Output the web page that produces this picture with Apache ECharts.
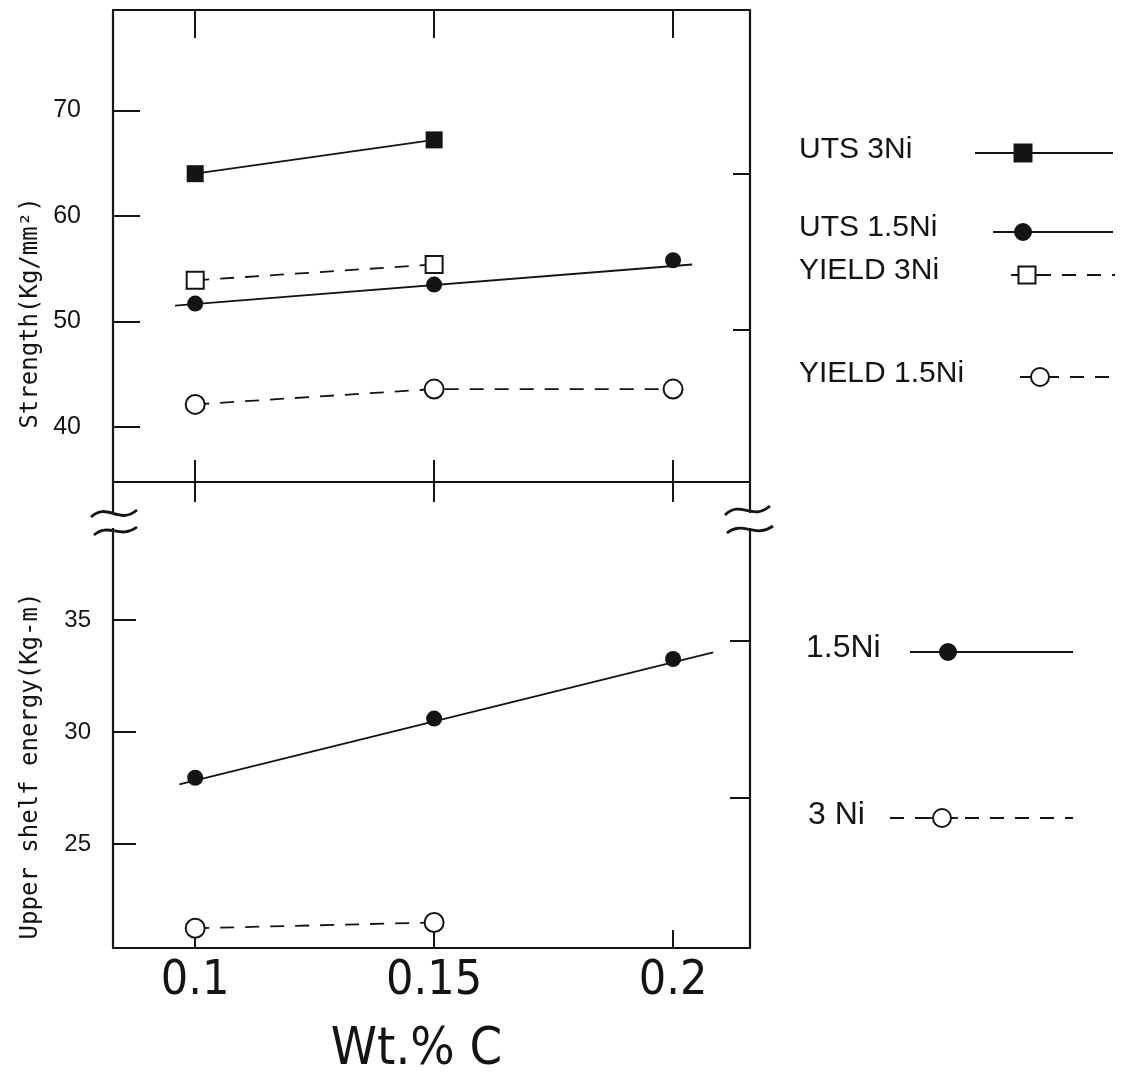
<!DOCTYPE html>
<html>
<head>
<meta charset="utf-8">
<script src="https://cdn.jsdelivr.net/npm/echarts@6/dist/echarts.min.js"></script>
<style>html,body{margin:0;padding:0;background:#fff}#c{width:1131px;height:1074px}</style>
</head>
<body>
<div id="c"></div>
<script>
// ---- data ----
const xTickValues = [0.1, 0.15, 0.2];
const strengthTicks = [40, 50, 60, 70];
const energyTicks = [25, 30, 35];

// Strength panel (Kg/mm^2) vs Wt.% C
const utsNi3 = [[0.1, 64.0], [0.15, 67.2]];
const utsNi15 = [[0.1, 51.7], [0.15, 53.5], [0.2, 55.8]];
const utsNi15Fit = [[0.0958, 51.5], [0.204, 55.4]];
const yieldNi3 = [[0.1, 53.9], [0.15, 55.4]];
const yieldNi15 = [[0.1, 42.15], [0.15, 43.6], [0.2, 43.6]];

// Upper shelf energy panel (Kg-m) vs Wt.% C
const useNi15 = [[0.1, 27.96], [0.15, 30.6], [0.2, 33.26]];
const useNi15Fit = [[0.0967, 27.66], [0.2084, 33.56]];
const useNi3 = [[0.1, 21.24], [0.15, 21.5]];

// ---- styling ----
const INK = '#141414';
const SANS = "'Liberation Sans', Arial, sans-serif";
const NARROW = "'Liberation Sans Narrow', 'DejaVu Sans Condensed', 'Liberation Sans', sans-serif";
const MONO = "'DejaVu Sans Mono', 'Liberation Mono', monospace";
const axisLine = { show: true, onZero: false, lineStyle: { color: INK, width: 2.2 } };
const dash = [14, 11];

const xRange = { min: 0.0828, max: 0.2161 };

function xAx(gridIndex, position, tickLen, showLabel) {
  return Object.assign({
    type: 'value', gridIndex, position,
    axisLine,
    splitLine: { show: false },
    axisTick: { show: true, inside: true, length: tickLen, customValues: xTickValues, lineStyle: { color: INK, width: 2 } },
    axisLabel: showLabel ? {
      show: true, customValues: xTickValues, margin: 10,
      fontFamily: NARROW, fontSize: 48, color: INK
    } : { show: false }
  }, xRange);
}

const option = {
  backgroundColor: '#fff',
  animation: false,
  grid: [
    { left: 113, top: 10, width: 637, height: 472, outerBoundsMode: 'none', containLabel: false },
    { left: 113, top: 482, width: 637, height: 466, outerBoundsMode: 'none', containLabel: false }
  ],
  xAxis: [
    xAx(0, 'bottom', 22, false),
    xAx(0, 'top', 28, false),
    xAx(1, 'top', 20, false),
    Object.assign(xAx(1, 'bottom', 18, true), {
      name: 'Wt.% C', nameLocation: 'middle', nameGap: 76,
      nameTextStyle: { fontFamily: NARROW, fontSize: 52, color: INK, padding: [0, 30, 0, 0] }
    })
  ],
  yAxis: [
    {
      type: 'value', gridIndex: 0, position: 'left', min: 34.8, max: 79.5,
      axisLine, splitLine: { show: false },
      axisTick: { show: true, inside: true, length: 27, customValues: strengthTicks, lineStyle: { color: INK, width: 2 } },
      axisLabel: { show: true, customValues: strengthTicks, margin: 32, fontFamily: SANS, fontSize: 25, color: INK },
      name: 'Strength(Kg/mm\u00b2)', nameLocation: 'middle', nameRotate: 90, nameGap: 70,
      nameTextStyle: { fontFamily: MONO, fontSize: 24, color: INK, padding: [0, 134, 0, 0] }
    },
    {
      type: 'value', gridIndex: 0, position: 'right', min: 34.8, max: 79.5,
      axisLine, splitLine: { show: false },
      axisTick: { show: true, inside: true, length: 17, customValues: [64.0, 49.2], lineStyle: { color: INK, width: 2 } },
      axisLabel: { show: false }
    },
    {
      type: 'value', gridIndex: 1, position: 'left', min: 20.36, max: 41.16,
      axisLine, splitLine: { show: false },
      axisTick: { show: true, inside: true, length: 23, customValues: energyTicks, lineStyle: { color: INK, width: 2 } },
      axisLabel: { show: true, customValues: energyTicks, margin: 22, fontFamily: SANS, fontSize: 24, color: INK },
      name: 'Upper shelf energy(Kg-m)', nameLocation: 'middle', nameRotate: 90, nameGap: 70,
      nameTextStyle: { fontFamily: MONO, fontSize: 24, color: INK, padding: [0, 102, 0, 0] }
    },
    {
      type: 'value', gridIndex: 1, position: 'right', min: 20.36, max: 41.16,
      axisLine, splitLine: { show: false },
      axisTick: { show: true, inside: true, length: 20, customValues: [34.06, 27.05], lineStyle: { color: INK, width: 2 } },
      axisLabel: { show: false }
    }
  ],
  series: [
    {
      name: 'UTS 3Ni', type: 'line', xAxisIndex: 0, yAxisIndex: 0, data: utsNi3,
      symbol: 'rect', symbolSize: 17, showAllSymbol: true,
      lineStyle: { color: INK, width: 1.8 }, itemStyle: { color: INK }
    },
    {
      name: 'UTS 1.5Ni fit', type: 'line', xAxisIndex: 0, yAxisIndex: 0, data: utsNi15Fit,
      symbol: 'none', lineStyle: { color: INK, width: 1.8 }
    },
    {
      name: 'UTS 1.5Ni', type: 'scatter', xAxisIndex: 0, yAxisIndex: 0, data: utsNi15,
      symbol: 'circle', symbolSize: 16, itemStyle: { color: INK, opacity: 1 }
    },
    {
      name: 'YIELD 3Ni', type: 'line', xAxisIndex: 0, yAxisIndex: 0, data: yieldNi3,
      symbol: 'rect', symbolSize: 17, showAllSymbol: true,
      lineStyle: { color: INK, width: 1.8, type: dash },
      itemStyle: { color: '#fff', borderColor: INK, borderWidth: 2 }
    },
    {
      name: 'YIELD 1.5Ni', type: 'line', xAxisIndex: 0, yAxisIndex: 0, data: yieldNi15,
      symbol: 'circle', symbolSize: 19, showAllSymbol: true,
      lineStyle: { color: INK, width: 1.8, type: dash },
      itemStyle: { color: '#fff', borderColor: INK, borderWidth: 2 }
    },
    {
      name: '1.5Ni fit', type: 'line', xAxisIndex: 3, yAxisIndex: 2, data: useNi15Fit,
      symbol: 'none', lineStyle: { color: INK, width: 1.8 }
    },
    {
      name: '1.5Ni', type: 'scatter', xAxisIndex: 3, yAxisIndex: 2, data: useNi15,
      symbol: 'circle', symbolSize: 16, itemStyle: { color: INK, opacity: 1 }
    },
    {
      name: '3 Ni', type: 'line', xAxisIndex: 3, yAxisIndex: 2, data: useNi3,
      symbol: 'circle', symbolSize: 19, showAllSymbol: true,
      lineStyle: { color: INK, width: 1.8, type: dash },
      itemStyle: { color: '#fff', borderColor: INK, borderWidth: 2 }
    }
  ]
};

// ---- legend drawn as graphics (text left, sample line with symbol to the right) ----
function legendItem(label, ty, fontSize, tx, lx1, lx2, mx, my, marker, dashed) {
  const els = [];
  els.push({ type: 'text', left: tx, top: ty - fontSize * 0.6, z: 100,
    style: { text: label, fontFamily: SANS, fontSize, fill: INK } });
  els.push({ type: 'line', z: 100, shape: { x1: lx1, y1: my, x2: lx2, y2: my },
    style: { stroke: INK, lineWidth: 1.8, lineDash: dashed ? dash : null } });
  if (dashed) {
    els.push({ type: 'line', z: 100, shape: { x1: mx - 16, y1: my, x2: mx + 16, y2: my },
      style: { stroke: INK, lineWidth: 1.8 } });
  }
  const fill = marker.startsWith('filled') ? INK : '#fff';
  if (marker.endsWith('Square')) {
    els.push({ type: 'rect', z: 101, shape: { x: mx - 8.5, y: my - 8.5, width: 17, height: 17 },
      style: { fill, stroke: INK, lineWidth: 2 } });
  } else {
    els.push({ type: 'circle', z: 101, shape: { cx: mx, cy: my, r: marker.startsWith('filled') ? 8 : 9 },
      style: { fill, stroke: INK, lineWidth: 2 } });
  }
  return els;
}

function tilde(x1, y1, x2, y2, amp) {
  const w = x2 - x1;
  return { type: 'bezierCurve', z: 102,
    shape: { x1, y1, cpx1: x1 + w * 0.35, cpy1: y1 - amp * 2.6, cpx2: x1 + w * 0.6, cpy2: y2 + amp * 2.6, x2, y2 },
    style: { stroke: INK, lineWidth: 2.8, fill: null } };
}

const graphics = [].concat(
  legendItem('UTS 3Ni', 153, 30, 799, 975, 1113, 1023, 153, 'filledSquare', false),
  legendItem('UTS 1.5Ni', 231, 30, 799, 993, 1113, 1023, 232, 'filledCircle', false),
  legendItem('YIELD 3Ni', 274, 30, 799, 1012, 1115, 1027, 275, 'openSquare', true),
  legendItem('YIELD 1.5Ni', 377, 30, 799, 1020, 1115, 1040, 377, 'openCircle', true),
  legendItem('1.5Ni', 651, 32, 806, 910, 1073, 948, 652, 'filledCircle', false),
  legendItem('3 Ni', 818, 32, 808, 890, 1073, 942, 818, 'openCircle', true),
  [
    { type: 'rect', z: 101, shape: { x: 109, y: 514, width: 8, height: 14 }, style: { fill: '#fff' } },
    { type: 'rect', z: 101, shape: { x: 746, y: 513, width: 8, height: 15 }, style: { fill: '#fff' } },
    tilde(91, 517, 137, 510, 6),
    tilde(94, 535, 137, 527, 5),
    tilde(725, 515, 770, 506, 6),
    tilde(727, 533, 773, 526, 5)
  ]
);
option.graphic = { elements: graphics };

const chart = echarts.init(document.getElementById('c'), null, { renderer: 'canvas' });
chart.setOption(option);
</script>
</body>
</html>
